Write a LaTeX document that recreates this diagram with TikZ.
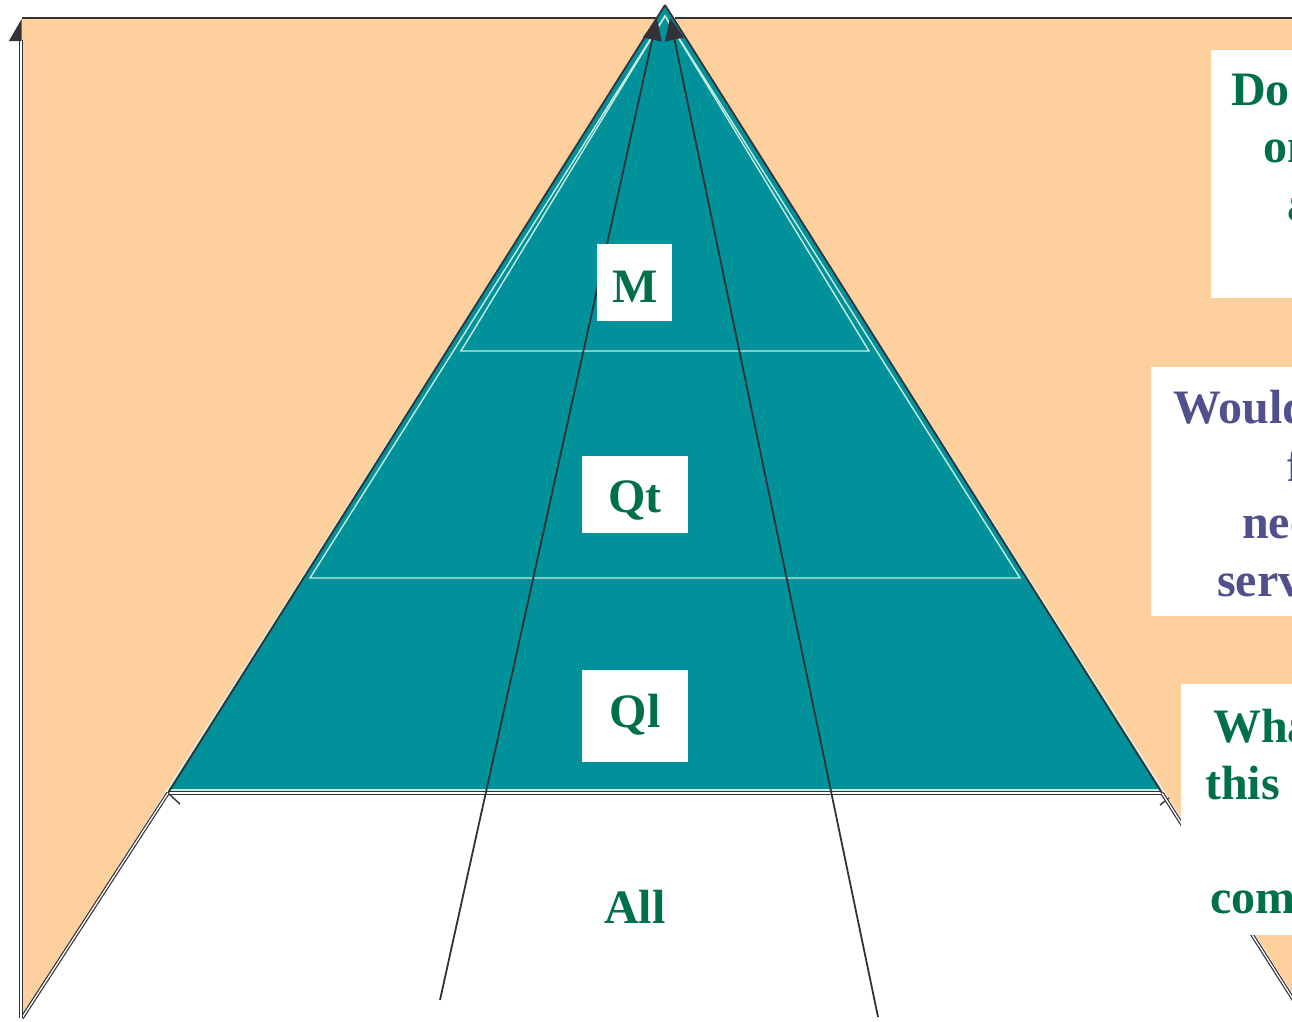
\documentclass[tikz,border=0pt]{standalone}
\usepackage{fontspec}
\setmainfont{Liberation Serif}
\usetikzlibrary{arrows.meta}
\definecolor{peach}{RGB}{253,208,158}
\definecolor{teal}{RGB}{0,145,155}
\definecolor{mint}{RGB}{200,236,222}
\definecolor{dark}{RGB}{50,50,56}
\definecolor{grn}{RGB}{0,112,72}
\definecolor{purp}{RGB}{80,80,140}
\tikzset{
  lbl/.style={font=\fontsize{48}{57}\selectfont\bfseries, inner sep=0pt},
  whitebox/.style={fill=white, draw=none, inner sep=0pt},
  edge/.style={draw=dark, line width=1.8pt},
  dbl/.style={draw=dark, line width=1.2pt, double=white, double distance=1.3pt},
  tier/.style={draw=mint, line width=1.4pt},
  ray/.style={draw=dark, line width=1.8pt, -{Triangle[length=22pt,width=19pt]}},
}
\begin{document}
\begin{tikzpicture}[x=1pt,y=-1pt]
\useasboundingbox (0,0) rectangle (1292,1021);
\clip (0,0) rectangle (1292,1021);
% key points
\coordinate (apex) at (665,5);
\coordinate (bl) at (22,1018);
\coordinate (br) at (1308,1018);
\coordinate (tl) at (22,18);
\coordinate (tr) at (1300,18);
\coordinate (pl) at (168,790);
\coordinate (pr) at (1162,790);
\coordinate (basel) at (168,793);
\coordinate (baser) at (1162,793);
% peach frame
\fill[peach] (tl) -- (tr) -- (1300,1018) -- (bl) -- cycle;
\fill[white] (apex) -- (bl) -- (br) -- cycle;
% teal pyramid
\fill[teal, draw=mint, line width=1pt] (apex) -- (pl) -- (pr) -- cycle;
% tier outlines
\coordinate (t1l) at (461,351);
\coordinate (t1r) at (869,351);
\coordinate (t2l) at (310,578);
\coordinate (t2r) at (1020,578);
\coordinate (tt) at (665,16);
\draw[tier] (tt) -- (t1l) -- (t1r) -- cycle;
\draw[tier] (tt) -- (t2l) -- (t2r) -- cycle;
\draw[tier] (pl) -- (pr);
% base line
\draw[dbl] (basel) -- (baser);
\draw[dark, line width=1.4pt] (basel) -- (180,804);
\draw[dark, line width=1.4pt] (1160,805) -- (1169,798);
% outer edges
\draw[dbl] (bl) -- (basel);
\draw[edge] (basel) -- (apex);
\draw[dbl] (baser) -- (1300,1010);
\draw[edge] (baser) -- (apex);
% top line
\draw[dark, line width=2.2pt] (tl) -- (656,18);
\draw[dark, line width=2.2pt] (675,18) -- (tr);
% left vertical arrow
\coordinate (vb) at (21,1018);
\coordinate (vt) at (21,19);
\draw[dbl, -{Triangle[length=21pt,width=24pt,left]}] (vb) -- (vt);
% rays to apex
\coordinate (r1b) at (440,1000);
\coordinate (r1t) at (657,18);
\coordinate (r2b) at (878,1017);
\coordinate (r2t) at (670,18);
\draw[ray] (r1b) -- (r1t);
\draw[ray] (r2b) -- (r2t);
% level labels
\node[whitebox, minimum width=75pt, minimum height=77pt] (mbox) at (634.5,282.5) {};
\node[lbl, text=grn, anchor=base] (mtxt) at (635,302) {M};
\node[whitebox, minimum width=106pt, minimum height=77pt] (qtbox) at (635,494.5) {};
\node[lbl, text=grn, anchor=base] (qttxt) at (635,512) {Qt};
\node[whitebox, minimum width=106pt, minimum height=92pt] (qlbox) at (635,716) {};
\node[lbl, text=grn, anchor=base] (qltxt) at (635,727) {Ql};
\node[lbl, text=grn, anchor=base] (alltxt) at (635,923) {All};
% right text boxes
\node[whitebox, anchor=north west, minimum width=120pt, minimum height=248pt] (box1) at (1211,50) {};
\node[lbl, text=grn, anchor=base west] (b1a) at (1231,105) {Do};
\node[lbl, text=grn, anchor=base west] (b1b) at (1263,162) {on};
\node[lbl, text=grn, anchor=base west] (b1c) at (1287,220) {a};
\node[whitebox, anchor=north west, minimum width=180pt, minimum height=249pt] (box2) at (1151,367) {};
\node[lbl, text=purp, anchor=base west] (b2a) at (1173,423) {Would};
\node[lbl, text=purp, anchor=base west] (b2b) at (1287,481) {f};
\node[lbl, text=purp, anchor=base west] (b2c) at (1242,538) {nee};
\node[lbl, text=purp, anchor=base west] (b2d) at (1217,596) {serv};
\node[whitebox, anchor=north west, minimum width=150pt, minimum height=251pt] (box3) at (1181,684) {};
\node[lbl, text=grn, anchor=base west] (b3a) at (1213,742) {What};
\node[lbl, text=grn, anchor=base west] (b3b) at (1205,799) {this i};
\node[lbl, text=grn, anchor=base west] (b3c) at (1210,913) {com};
\end{tikzpicture}
\end{document}
